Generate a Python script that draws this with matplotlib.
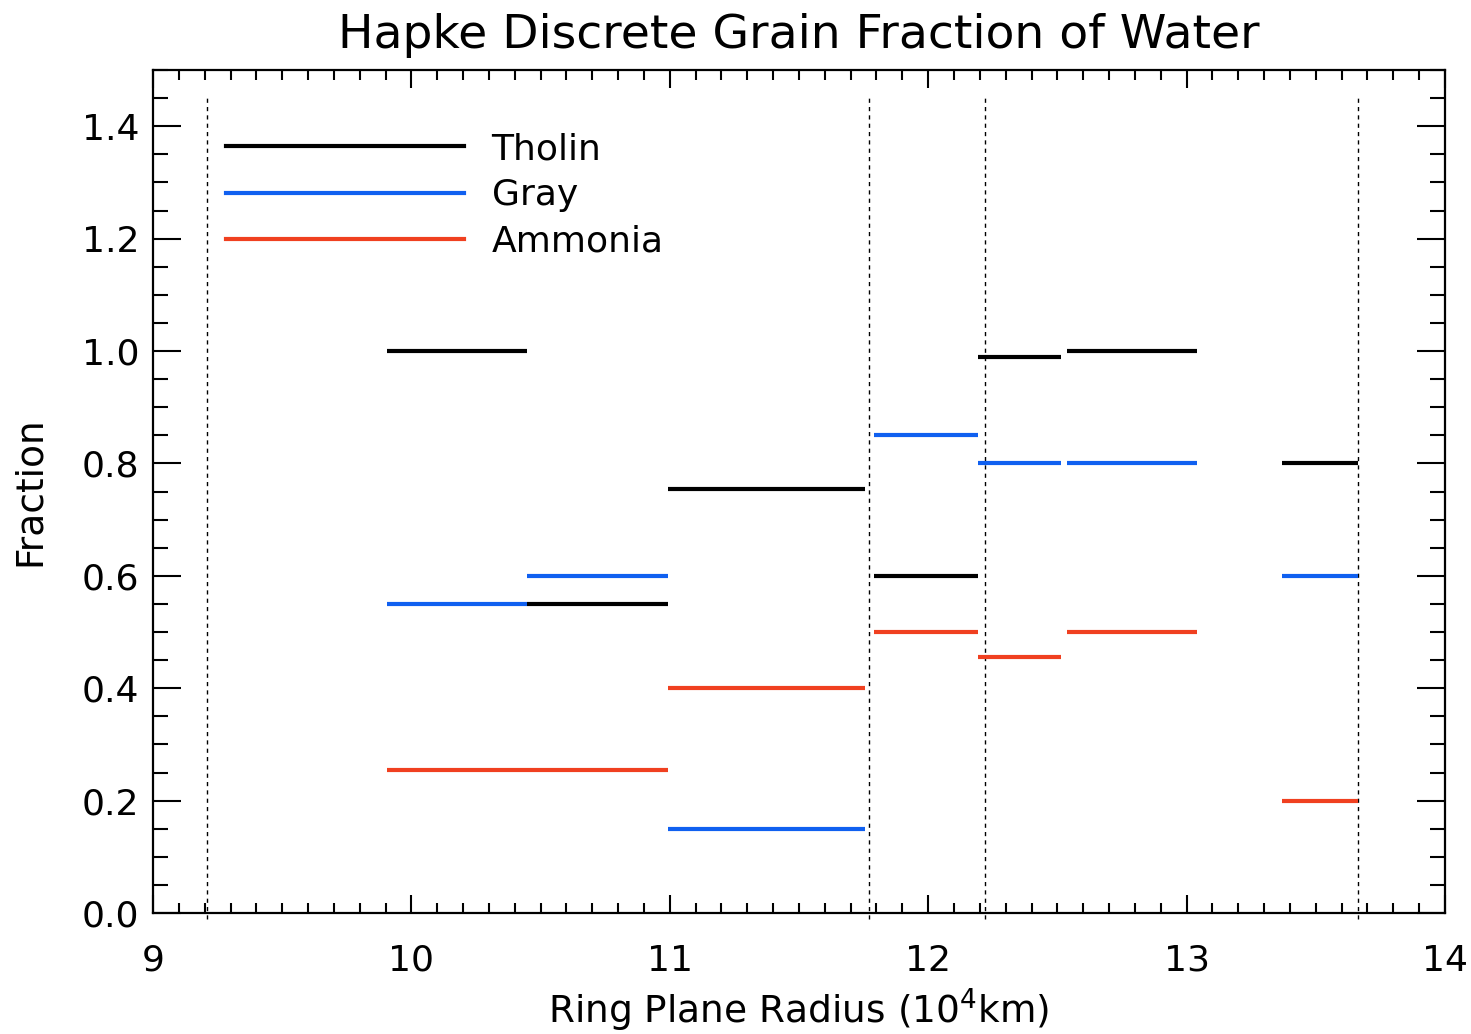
import numpy as np
import matplotlib
matplotlib.use("Agg")
import matplotlib.pyplot as plt
from matplotlib.ticker import MultipleLocator

# region boundaries (10^4 km)
seg_start = [9.905, 10.447, 10.993, 11.79, 12.194, 12.536, 13.369]
seg_end = [10.447, 10.993, 11.755, 12.194, 12.513, 13.039, 13.663]

# fractions per region
tholin = [1.0, 0.55, 0.755, 0.6, 0.99, 1.0, 0.8]
gray = [0.55, 0.6, 0.15, 0.85, 0.8, 0.8, 0.6]
ammonia = [0.255, 0.255, 0.4, 0.5, 0.455, 0.5, 0.2]

# ring boundaries (dotted lines)
bounds = [9.21, 11.77, 12.22, 13.665]

plt.rcParams['font.family'] = ['DejaVu Sans']

fig = plt.figure(figsize=(14.71, 10.34), dpi=100)
ax = fig.add_axes([0.104, 0.117, 0.8783, 0.8153])

for b in bounds:
    ax.plot([b, b], [-0.01, 1.458], color='black', lw=1.0,
            linestyle=(0, (3, 3)), clip_on=False, zorder=1)

series = [(tholin, 'black', 'Tholin'),
          (gray, '#1060f0', 'Gray'),
          (ammonia, '#f04020', 'Ammonia')]
for vals, col, lab in series:
    ax.hlines(vals, seg_start, seg_end, colors=col, lw=3.0, zorder=3)
    ax.plot([], [], color=col, lw=3.0, label=lab)

ax.set_xlim(9, 14)
ax.set_ylim(0, 1.5)
ax.xaxis.set_major_locator(MultipleLocator(1))
ax.xaxis.set_minor_locator(MultipleLocator(0.1))
ax.yaxis.set_major_locator(MultipleLocator(0.2))
ax.yaxis.set_minor_locator(MultipleLocator(0.05))
ax.set_xticks([9, 10, 11, 12, 13, 14])
ax.set_yticks(np.arange(0, 1.41, 0.2))
ax.set_yticklabels(['0.0', '0.2', '0.4', '0.6', '0.8', '1.0', '1.2', '1.4'])

ax.tick_params(axis='x', which='major', direction='in', length=13, width=1.5,
               top=True, labelsize=26, pad=22)
ax.tick_params(axis='x', which='minor', direction='in', length=7, width=1.5, top=True)
ax.tick_params(axis='y', which='major', direction='in', length=20, width=1.5,
               right=True, labelsize=26, pad=10)
ax.tick_params(axis='y', which='minor', direction='in', length=11, width=1.5, right=True)
for sp in ax.spines.values():
    sp.set_linewidth(1.6)

ax.set_xlabel('Ring Plane Radius (10$^4$km)', fontsize=27, labelpad=6)
ax.set_ylabel('Fraction', fontsize=27, labelpad=24)
ax.set_title('Hapke Discrete Grain Fraction of Water', fontsize=34, pad=16)

ax.legend(loc='upper left', bbox_to_anchor=(0.051, 0.935), frameon=False,
          fontsize=26, handlelength=6.6, handletextpad=0.75, labelspacing=0.34,
          borderaxespad=0, borderpad=0.2)

fig.savefig('out.png', dpi=100)
